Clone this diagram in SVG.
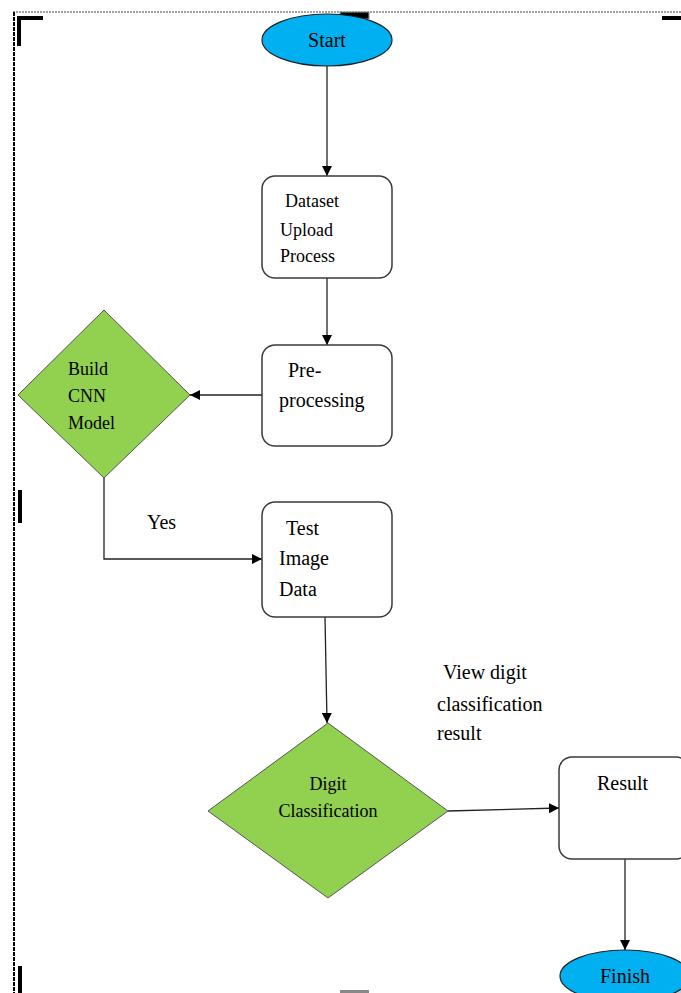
<svg xmlns="http://www.w3.org/2000/svg" width="681" height="993" viewBox="0 0 681 993">
<style>
.box{fill:#fff;stroke:#3a3a3a;stroke-width:1.5}
.term{fill:#00B0F0;stroke:#222;stroke-width:1.2}
.dec{fill:#92D050;stroke:#555;stroke-width:1}
.t{font-family:"Liberation Serif","Times New Roman",serif;fill:#000}
.c{stroke:#222;stroke-width:1.3;fill:none}
.mark{fill:#000}
</style>
<defs>
<marker id="arr" markerWidth="10" markerHeight="10" refX="10" refY="5" orient="auto" markerUnits="userSpaceOnUse">
<path d="M0,0 L10,5 L0,10 Z" fill="#000"/>
</marker>
</defs>
<rect width="681" height="993" fill="#fff"/>
<g id="frame">
<line x1="13" y1="12" x2="681" y2="12" stroke="#444" stroke-width="1.2" stroke-dasharray="2,1"/>
<line x1="14" y1="12" x2="14" y2="993" stroke="#000" stroke-width="2" stroke-dasharray="4,1"/>
<rect class="mark" x="17" y="16" width="26" height="4"/>
<rect class="mark" x="17" y="16" width="4" height="30"/>
<rect x="340" y="12" width="29" height="7" fill="#000" stroke="#999" stroke-width="1"/>
<rect class="mark" x="662" y="16" width="19" height="4"/>
<rect class="mark" x="18" y="490" width="4" height="33"/>
<rect class="mark" x="18" y="966" width="4" height="27"/>
<rect x="340" y="990" width="29" height="3" fill="#888"/>
<rect x="672" y="990" width="9" height="3" fill="#ccc"/>
</g>
<g id="connectors">
<line class="c" x1="327" y1="66" x2="327" y2="176" marker-end="url(#arr)"/>
<line class="c" x1="327" y1="278" x2="327" y2="345" marker-end="url(#arr)"/>
<line class="c" x1="262" y1="395" x2="190" y2="395" marker-end="url(#arr)"/>
<polyline class="c" points="104,478 104,559 262,559" marker-end="url(#arr)"/>
<line class="c" x1="325" y1="617" x2="327" y2="723" marker-end="url(#arr)"/>
<line class="c" x1="448" y1="811" x2="559" y2="808" marker-end="url(#arr)"/>
<line class="c" x1="625" y1="859" x2="625" y2="950" marker-end="url(#arr)"/>
</g>
<g id="start">
<ellipse class="term" cx="327" cy="40" rx="65" ry="26"/>
<text class="t" x="327" y="47" font-size="20" text-anchor="middle">Start</text>
</g>
<g id="dataset">
<rect class="box" x="262" y="176" width="130" height="102" rx="13"/>
<text class="t" x="285" y="207" font-size="18">Dataset</text>
<text class="t" x="280" y="236" font-size="18">Upload</text>
<text class="t" x="280" y="262" font-size="18">Process</text>
</g>
<g id="preprocessing">
<rect class="box" x="262" y="345" width="130" height="101" rx="13"/>
<text class="t" x="288" y="377" font-size="20">Pre-</text>
<text class="t" x="279" y="407" font-size="20">processing</text>
</g>
<g id="build">
<polygon class="dec" points="104,310 190,395 104,478 18,395"/>
<text class="t" x="68" y="375" font-size="18">Build</text>
<text class="t" x="68" y="402" font-size="18">CNN</text>
<text class="t" x="68" y="429" font-size="18">Model</text>
</g>
<g id="yes-label">
<text class="t" x="147" y="529" font-size="20">Yes</text>
</g>
<g id="test">
<rect class="box" x="262" y="502" width="130" height="115" rx="13"/>
<text class="t" x="286" y="535" font-size="20">Test</text>
<text class="t" x="279" y="565" font-size="20">Image</text>
<text class="t" x="279" y="596" font-size="20">Data</text>
</g>
<g id="digit">
<polygon class="dec" points="328,723 448,811 328,898 208,811"/>
<text class="t" x="328" y="790" font-size="18" text-anchor="middle">Digit</text>
<text class="t" x="328" y="817" font-size="18" text-anchor="middle">Classification</text>
</g>
<g id="view-label">
<text class="t" x="443" y="679" font-size="20">View digit</text>
<text class="t" x="437" y="711" font-size="20">classification</text>
<text class="t" x="437" y="740" font-size="20">result</text>
</g>
<g id="result">
<rect class="box" x="559" y="757" width="130" height="102" rx="13"/>
<text class="t" x="597" y="790" font-size="20">Result</text>
</g>
<g id="finish">
<ellipse class="term" cx="625" cy="976" rx="65" ry="26"/>
<text class="t" x="625" y="983" font-size="20" text-anchor="middle">Finish</text>
</g>
</svg>
